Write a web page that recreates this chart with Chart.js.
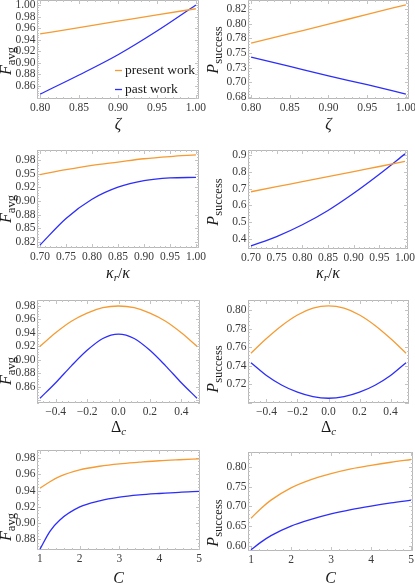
<!DOCTYPE html>
<html lang="en">
<head>
<meta charset="UTF-8">
<title>Fidelity and success probability</title>
<style>
  html, body { margin: 0; padding: 0; background: #ffffff; }
  #wrap { position: relative; width: 415px; height: 585px; overflow: hidden; }
  #wrap canvas { position: absolute; left: 0; top: 0; }
</style>
</head>
<body>
<div id="wrap">
  <canvas id="c1" width="415" height="585"></canvas>
  <canvas id="c2" width="415" height="585"></canvas>
  <canvas id="c3" width="415" height="585"></canvas>
  <canvas id="c4" width="415" height="585"></canvas>
  <canvas id="c5" width="415" height="585"></canvas>
  <canvas id="c6" width="415" height="585"></canvas>
  <canvas id="c7" width="415" height="585"></canvas>
  <canvas id="c8" width="415" height="585"></canvas>
</div>
<script src="https://cdn.jsdelivr.net/npm/chart.js"></script>
<script>
// series
const seriesNames = ['present work', 'past work'];

// row 1: zeta
const zeta = [0.80, 0.85, 0.90, 0.95, 1.00];
const favgZetaPresent = [0.950, 0.961, 0.972, 0.983, 0.9935];
const favgZetaPast    = [0.846, 0.879, 0.914, 0.955, 1.000];
const psucZetaPresent = [0.767, 0.783, 0.799, 0.816, 0.832];
const psucZetaPast    = [0.743, 0.727, 0.711, 0.696, 0.680];

// row 2: kappa_r / kappa
const kappaRatio = [0.70, 0.75, 0.80, 0.85, 0.90, 0.95, 1.00];
const favgKappaPresent = [0.948, 0.957, 0.965, 0.971, 0.977, 0.981, 0.984];
const favgKappaPast    = [0.8195, 0.868, 0.903, 0.925, 0.937, 0.942, 0.943];
const psucKappaPresent = [0.681, 0.711, 0.741, 0.771, 0.801, 0.831, 0.861];
const psucKappaPast    = [0.360, 0.415, 0.485, 0.570, 0.672, 0.785, 0.906];

// row 3: detuning
const detuning = [-0.5, -0.4, -0.3, -0.2, -0.1, 0.0, 0.1, 0.2, 0.3, 0.4, 0.5];
const favgDetPresent = [0.920, 0.940, 0.957, 0.969, 0.977, 0.9795, 0.977, 0.969, 0.957, 0.940, 0.920];
const favgDetPast    = [0.843, 0.866, 0.891, 0.914, 0.9315, 0.938, 0.9315, 0.914, 0.891, 0.866, 0.843];
const psucDetPresent = [0.7535, 0.7693, 0.7834, 0.7947, 0.802, 0.8045, 0.802, 0.7947, 0.7834, 0.7693, 0.7535];
const psucDetPast    = [0.7433, 0.7295, 0.719, 0.7115, 0.7067, 0.705, 0.7067, 0.7115, 0.719, 0.7295, 0.7433];

// row 4: cooperativity C
const coop = [1, 1.25, 1.5, 2, 2.5, 3, 3.5, 4, 4.5, 5];
const favgCoopPresent = [0.943, 0.951, 0.9575, 0.9655, 0.970, 0.973, 0.975, 0.9768, 0.978, 0.979];
const favgCoopPast    = [0.868, 0.890, 0.904, 0.920, 0.9275, 0.932, 0.9347, 0.9365, 0.938, 0.939];
const psucCoopPresent = [0.670, 0.695, 0.716, 0.747, 0.768, 0.783, 0.795, 0.804, 0.812, 0.819];
const psucCoopPast    = [0.590, 0.6095, 0.626, 0.650, 0.667, 0.681, 0.692, 0.701, 0.709, 0.716];

// tick values and labels
const zetaTicks = [0.80, 0.85, 0.90, 0.95, 1.00];
const zetaTickLabels = ['0.80', '0.85', '0.90', '0.95', '1.00'];
const kappaTicks = [0.70, 0.75, 0.80, 0.85, 0.90, 0.95, 1.00];
const kappaTickLabels = ['0.70', '0.75', '0.80', '0.85', '0.90', '0.95', '1.00'];
const detTicks = [-0.4, -0.2, 0.0, 0.2, 0.4];
const detTickLabels = ['\u22120.4', '\u22120.2', '0.0', '0.2', '0.4'];
const coopTicks = [1, 2, 3, 4, 5];
const coopTickLabels = ['1', '2', '3', '4', '5'];

const fZetaTicks = [0.86, 0.88, 0.90, 0.92, 0.94, 0.96, 0.98, 1.00];
const fZetaTickLabels = ['0.86', '0.88', '0.90', '0.92', '0.94', '0.96', '0.98', '1.00'];
const pZetaTicks = [0.675, 0.70, 0.725, 0.75, 0.775, 0.80, 0.825];
const pZetaTickLabels = ['0.68', '0.70', '0.73', '0.75', '0.78', '0.80', '0.82'];
const fKappaTicks = [0.825, 0.85, 0.875, 0.90, 0.925, 0.95, 0.975];
const fKappaTickLabels = ['0.82', '0.85', '0.88', '0.90', '0.92', '0.95', '0.98'];
const pKappaTicks = [0.4, 0.5, 0.6, 0.7, 0.8, 0.9];
const pKappaTickLabels = ['0.4', '0.5', '0.6', '0.7', '0.8', '0.9'];
const fDetTicks = [0.86, 0.88, 0.90, 0.92, 0.94, 0.96, 0.98];
const fDetTickLabels = ['0.86', '0.88', '0.90', '0.92', '0.94', '0.96', '0.98'];
const pDetTicks = [0.72, 0.74, 0.76, 0.78, 0.80];
const pDetTickLabels = ['0.72', '0.74', '0.76', '0.78', '0.80'];
const fCoopTicks = [0.88, 0.90, 0.92, 0.94, 0.96, 0.98];
const fCoopTickLabels = ['0.88', '0.90', '0.92', '0.94', '0.96', '0.98'];
const pCoopTicks = [0.60, 0.65, 0.70, 0.75, 0.80];
const pCoopTickLabels = ['0.60', '0.65', '0.70', '0.75', '0.80'];

const SERIF = '"Liberation Serif", "DejaVu Serif", serif';
const presentColor = 'rgb(245,155,50)';
const pastColor = 'rgb(45,45,250)';
const tickColor = '#3a3a3a';

// axis titles, drawn with subscripts
const IT = 'italic 16px ' + SERIF;
const SUB = '12.5px ' + SERIF;
const SUBI = 'italic 11px ' + SERIF;
const TITLE_F = [{ t: 'F', f: IT }, { t: 'avg', f: SUB, dy: 3.5 }];
const TITLE_P = [{ t: 'P', f: IT }, { t: 'success', f: SUB, dy: 3.5 }];
const TITLE_ZETA = [{ t: '\u03b6', f: IT }];
const TITLE_KAPPA = [{ t: '\u03ba', f: IT }, { t: 'r', f: SUBI, dy: 3 }, { t: '/', f: '15px ' + SERIF }, { t: '\u03ba', f: IT }];
const TITLE_DELTA = [{ t: '\u0394', f: '16px ' + SERIF }, { t: 'c', f: SUBI, dy: 3 }];
const TITLE_C = [{ t: 'C', f: IT }];

const panels = [
  { id: 'c1', box: [37, 0, 199, 99], xr: [0.796, 1.004], yr: [0.8375, 1.0086],
    x: zeta, present: favgZetaPresent, past: favgZetaPast,
    xTicks: zetaTicks, xLabels: zetaTickLabels, yTicks: fZetaTicks, yLabels: fZetaTickLabels,
    xTitle: TITLE_ZETA, yTitle: TITLE_F, xTitleY: 129, yTitleX: 11, yTitleY: 61, legend: true },
  { id: 'c2', box: [248, 0, 409, 99], xr: [0.796, 1.004], yr: [0.6716, 0.8403],
    x: zeta, present: psucZetaPresent, past: psucZetaPast,
    xTicks: zetaTicks, xLabels: zetaTickLabels, yTicks: pZetaTicks, yLabels: pZetaTickLabels,
    xTitle: TITLE_ZETA, yTitle: TITLE_P, xTitleY: 129, yTitleX: 218, yTitleY: 50 },
  { id: 'c3', box: [37, 150, 199, 248], xr: [0.6942, 1.0058], yr: [0.814, 0.993],
    x: kappaRatio, present: favgKappaPresent, past: favgKappaPast,
    xTicks: kappaTicks, xLabels: kappaTickLabels, yTicks: fKappaTicks, yLabels: fKappaTickLabels,
    xTitle: TITLE_KAPPA, yTitle: TITLE_F, xTitleY: 278, yTitleX: 11, yTitleY: 209 },
  { id: 'c4', box: [248, 150, 408, 249], xr: [0.6942, 1.0058], yr: [0.341, 0.929],
    x: kappaRatio, present: psucKappaPresent, past: psucKappaPast,
    xTicks: kappaTicks, xLabels: kappaTickLabels, yTicks: pKappaTicks, yLabels: pKappaTickLabels,
    xTitle: TITLE_KAPPA, yTitle: TITLE_P, xTitleY: 278, yTitleX: 218, yTitleY: 202 },
  { id: 'c5', box: [37, 300, 200, 403], xr: [-0.519, 0.519], yr: [0.836, 0.9884],
    x: detuning, present: favgDetPresent, past: favgDetPast,
    xTicks: detTicks, xLabels: detTickLabels, yTicks: fDetTicks, yLabels: fDetTickLabels,
    xTitle: TITLE_DELTA, yTitle: TITLE_F, xTitleY: 432, yTitleX: 11, yTitleY: 371 },
  { id: 'c6', box: [248, 300, 409, 403], xr: [-0.519, 0.519], yr: [0.6999, 0.8108],
    x: detuning, present: psucDetPresent, past: psucDetPast,
    xTicks: detTicks, xLabels: detTickLabels, yTicks: pDetTicks, yLabels: pDetTickLabels,
    xTitle: TITLE_DELTA, yTitle: TITLE_P, xTitleY: 432, yTitleX: 218, yTitleY: 369 },
  { id: 'c7', box: [37, 450, 200, 550], xr: [0.925, 5.025], yr: [0.867, 0.990],
    x: coop, present: favgCoopPresent, past: favgCoopPast,
    xTicks: coopTicks, xLabels: coopTickLabels, yTicks: fCoopTicks, yLabels: fCoopTickLabels,
    xTitle: TITLE_C, yTitle: TITLE_F, xTitleY: 583, yTitleX: 11, yTitleY: 527 },
  { id: 'c8', box: [248, 452, 413, 551], xr: [0.925, 5.05], yr: [0.587, 0.838],
    x: coop, present: psucCoopPresent, past: psucCoopPast,
    xTicks: coopTicks, xLabels: coopTickLabels, yTicks: pCoopTicks, yLabels: pCoopTickLabels,
    xTitle: TITLE_C, yTitle: TITLE_P, xTitleY: 583, yTitleX: 218, yTitleY: 523 }
];

function drawRich(ctx, parts, cx, by) {
  let w = 0;
  parts.forEach(p => { ctx.font = p.f; w += ctx.measureText(p.t).width; });
  let x = cx - w / 2;
  parts.forEach(p => {
    ctx.font = p.f;
    ctx.fillText(p.t, x, by + (p.dy || 0));
    x += ctx.measureText(p.t).width;
  });
}

// inward frame ticks, 4 minor ticks between majors
function tickMarks(ctx, scale, majors, a, horizontal) {
  const step = (majors[1] - majors[0]) / 5;
  const k0 = Math.ceil((scale.min - majors[0]) / step - 1e-9);
  const k1 = Math.floor((scale.max - majors[0]) / step + 1e-9);
  ctx.beginPath();
  for (let k = k0; k <= k1; k++) {
    const v = majors[0] + k * step;
    const len = (k % 5 === 0) ? 4 : 2;
    const pos = Math.round(scale.getPixelForValue(v)) + 0.5;
    if (horizontal) {
      ctx.moveTo(pos, a.bottom); ctx.lineTo(pos, a.bottom - len);
      ctx.moveTo(pos, a.top); ctx.lineTo(pos, a.top + len);
    } else {
      ctx.moveTo(a.left, pos); ctx.lineTo(a.left + len, pos);
      ctx.moveTo(a.right, pos); ctx.lineTo(a.right - len, pos);
    }
  }
  ctx.stroke();
}

function decor(p) {
  return {
    id: 'decor_' + p.id,
    beforeDatasetsDraw(chart) {
      const { ctx, chartArea: a, scales } = chart;
      ctx.save();
      ctx.strokeStyle = '#b8b8b8';
      ctx.lineWidth = 1;
      ctx.strokeRect(a.left + 0.5, a.top + 0.5, a.right - a.left - 1, a.bottom - a.top - 1);
      ctx.strokeStyle = '#c4c4c4';
      tickMarks(ctx, scales.x, p.xTicks, a, true);
      tickMarks(ctx, scales.y, p.yTicks, a, false);
      ctx.restore();
    },
    afterDraw(chart) {
      const { ctx, chartArea: a } = chart;
      ctx.save();
      ctx.fillStyle = '#1a1a1a';
      ctx.textBaseline = 'alphabetic';
      ctx.textAlign = 'left';
      drawRich(ctx, p.xTitle, (a.left + a.right) / 2, p.xTitleY);
      ctx.save();
      ctx.translate(p.yTitleX, p.yTitleY);
      ctx.rotate(-Math.PI / 2);
      drawRich(ctx, p.yTitle, 0, 0);
      ctx.restore();
      if (p.legend) {
        const rows = [[70, 0], [89, 1]];
        rows.forEach(([ly, i]) => {
          const ds = chart.data.datasets[i];
          ctx.strokeStyle = ds.borderColor;
          ctx.lineWidth = 1.3;
          ctx.beginPath();
          ctx.moveTo(115, ly + 0.5); ctx.lineTo(122, ly + 0.5);
          ctx.stroke();
          ctx.font = '13.5px ' + SERIF;
          ctx.fillStyle = '#1a1a1a';
          ctx.textBaseline = 'middle';
          ctx.fillText(ds.label, 125, ly);
        });
      }
      ctx.restore();
    }
  };
}

function makeChart(p) {
  const pts = arr => p.x.map((v, i) => ({ x: v, y: arr[i] }));
  return new Chart(document.getElementById(p.id), {
    type: 'line',
    data: {
      datasets: [
        { label: seriesNames[0], data: pts(p.present), borderColor: presentColor },
        { label: seriesNames[1], data: pts(p.past), borderColor: pastColor }
      ]
    },
    options: {
      responsive: false,
      animation: false,
      events: [],
      layout: { padding: { left: 0, top: p.box[1], right: 415 - p.box[2], bottom: 0 } },
      plugins: { legend: { display: false }, tooltip: { enabled: false } },
      elements: {
        point: { radius: 0 },
        line: { borderWidth: 1.3, cubicInterpolationMode: 'monotone', fill: false }
      },
      scales: {
        x: {
          type: 'linear', min: p.xr[0], max: p.xr[1],
          grid: { display: false, drawTicks: false }, border: { display: false },
          afterBuildTicks: s => { s.ticks = p.xTicks.map(v => ({ value: v })); },
          afterFit: s => { s.height = 585 - p.box[3]; s.paddingLeft = 0; s.paddingRight = 0; },
          ticks: {
            autoSkip: false, maxRotation: 0, padding: 2, color: tickColor,
            font: { family: SERIF, size: 11.5 },
            callback: (v, i) => p.xLabels[i]
          }
        },
        y: {
          type: 'linear', min: p.yr[0], max: p.yr[1],
          grid: { display: false, drawTicks: false }, border: { display: false },
          afterBuildTicks: s => { s.ticks = p.yTicks.map(v => ({ value: v })); },
          afterFit: s => { s.width = p.box[0]; s.paddingTop = 0; s.paddingBottom = 0; },
          ticks: {
            autoSkip: false, padding: 1.5, color: tickColor,
            font: { family: SERIF, size: 11.5 },
            callback: (v, i) => p.yLabels[i]
          }
        }
      }
    },
    plugins: [decor(p)]
  });
}

panels.forEach(makeChart);
</script>
</body>
</html>
